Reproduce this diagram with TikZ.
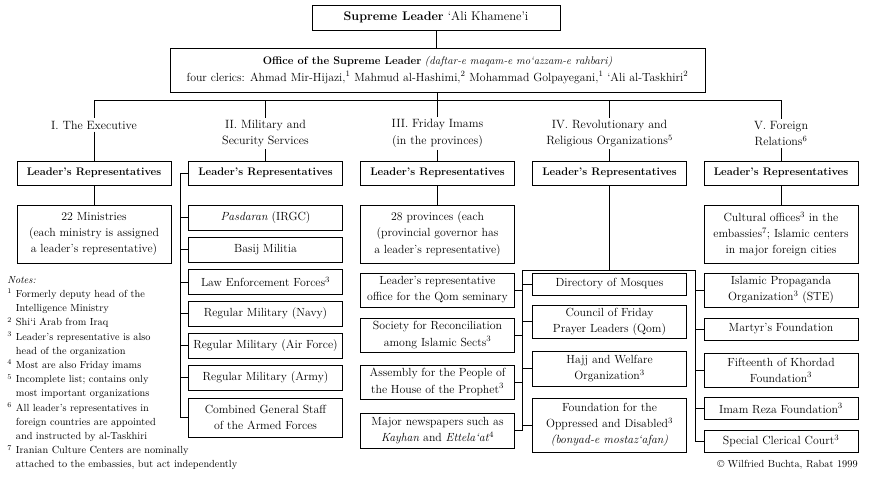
\documentclass[tikz,border=0pt]{standalone}
\usepackage{tikz}
\usetikzlibrary{positioning}
\pgfmathsetmacro{\xa}{94}
\pgfmathsetmacro{\xb}{265.5}
\pgfmathsetmacro{\xc}{437.5}
\pgfmathsetmacro{\xd}{609.5}
\pgfmathsetmacro{\xe}{781}
\pgfmathsetmacro{\bw}{154}

\begin{document}
\begin{tikzpicture}[x=1pt, y=-1pt, line width=.7pt,
		box/.style={draw, line width=.8pt, align=center, inner sep=0pt, minimum width=\bw, font=\fontsize{11.8}{16.2}\selectfont},
		head/.style={align=center, inner sep=2pt, font=\fontsize{12}{16.5}\selectfont},
		rep/.style={box, minimum height=24, font=\fontsize{11}{14}\selectfont},
		notes/.style={inner sep=0pt, align=left, font=\fontsize{10.3}{14.2}\selectfont}]
		\useasboundingbox (0,0) rectangle (872,477);
		\node[box, minimum width=248, minimum height=25, font=\fontsize{12.5}{15}\selectfont] (lead) at (436,17.5) {\textbf{Supreme Leader} `Ali Khamene'i};
		\node[box, minimum width=535, minimum height=44, font=\fontsize{11}{16.5}\selectfont] (office) at (437.5,70) {\textbf{Office of the Supreme Leader} \textit{(daftar-e maqam-e mo`azzam-e rahbari)}\\\fontsize{11.8}{16.5}\selectfont four clerics: Ahmad Mir-Hijazi,\textsuperscript{1} Mahmud al-Hashimi,\textsuperscript{2} Mohammad Golpayegani,\textsuperscript{1} `Ali al-Taskhiri\textsuperscript{2}};
		\coordinate (bar) at (437.5,100);
		\node[head] (h1) at (\xa,125) {I. The Executive};
		\node[head] (h2) at (\xb,133.5) {II. Military and\\Security Services};
		\node[head] (h3) at (\xc,133.5) {III. Friday Imams\\(in the provinces)};
		\node[head] (h4) at (\xd,133.5) {IV. Revolutionary and\\Religious Organizations\textsuperscript{5}};
		\node[head] (h5) at (\xe,133.5) {V. Foreign\\Relations\textsuperscript{6}};
		\foreach \x/\n in {\xa/1, \xb/2, \xc/3, \xd/4, \xe/5}
			\node[rep] (rep\n) at (\x,173) {\textbf{Leader's Representatives}};
		\node[box, minimum height=58] (min1) at (\xa,234) {22 Ministries\\(each ministry is assigned\\a leader's representative)};
		\node[box, minimum height=25] (pasd) at (\xb,217.5) {\textit{Pasdaran} (IRGC)};
		\node[box, minimum height=25] (basij) at (\xb,249.5) {Basij Militia};
		\node[box, minimum height=25] (law) at (\xb,282) {Law Enforcement Forces\textsuperscript{3}};
		\node[box, minimum height=25] (navy) at (\xb,313.5) {Regular Military (Navy)};
		\node[box, minimum height=25] (air) at (\xb,345.5) {Regular Military (Air Force)};
		\node[box, minimum height=25] (army) at (\xb,377.5) {Regular Military (Army)};
		\node[box, minimum height=39] (comb) at (\xb,417.5) {Combined General Staff\\of the Armed Forces};
		\node[box, minimum height=58] (prov3) at (\xc,234) {28 provinces (each\\(provincial governor has\\a leader's representative)};
		\node[box, minimum height=34] (qom) at (\xc,290) {Leader's representative\\office for the Qom seminary};
		\node[box, minimum height=34] (soc) at (\xc,335) {Society for Reconciliation\\among Islamic Sects\textsuperscript{3}};
		\node[box, minimum height=34] (assem) at (\xc,382) {Assembly for the People of\\the House of the Prophet\textsuperscript{3}};
		\node[box, minimum height=35] (news) at (\xc,430.5) {Major newspapers such as\\\textit{Kayhan} and \textit{Ettela`at}\textsuperscript{4}};
		\node[box, minimum height=22] (dir) at (\xd,284) {Directory of Mosques};
		\node[box, minimum height=33] (council) at (\xd,321.5) {Council of Friday\\Prayer Leaders (Qom)};
		\node[box, minimum height=35] (hajj) at (\xd,368.5) {Hajj and Welfare\\Organization\textsuperscript{3}};
		\node[box, minimum height=54] (found) at (\xd,425) {Foundation for the\\Oppressed and Disabled\textsuperscript{3}\\\textit{(bonyad-e mostaz`afan)}};
		\node[box, minimum height=58] (cult5) at (\xe,234) {Cultural offices\textsuperscript{3} in the\\embassies\textsuperscript{7}; Islamic centers\\in major foreign cities};
		\node[box, minimum height=34] (prop) at (\xe,290) {Islamic Propaganda\\Organization\textsuperscript{3} (STE)};
		\node[box, minimum height=22] (mart) at (\xe,329) {Martyr's Foundation};
		\node[box, minimum height=34] (fif) at (\xe,370) {Fifteenth of Khordad\\Foundation\textsuperscript{3}};
		\node[box, minimum height=22] (reza) at (\xe,408.5) {Imam Reza Foundation\textsuperscript{3}};
		\node[box, minimum height=22] (court) at (\xe,441) {Special Clerical Court\textsuperscript{3}};
		\node[notes, anchor=north west] (notes) at (7,273) {\begin{tabular}{@{}l@{\hspace{4pt}}l@{}}
			\multicolumn{2}{@{}l}{\textit{Notes:}}\\
			\textsuperscript{1} & Formerly deputy head of the\\
			& Intelligence Ministry\\
			\textsuperscript{2} & Shi`i Arab from Iraq\\
			\textsuperscript{3} & Leader's representative is also\\
			& head of the organization\\
			\textsuperscript{4} & Most are also Friday imams\\
			\textsuperscript{5} & Incomplete list; contains only\\
			& most important organizations\\
			\textsuperscript{6} & All leader's representatives in\\
			& foreign countries are appointed\\
			& and instructed by al-Taskhiri\\
			\textsuperscript{7} & Iranian Culture Centers are nominally\\
			& attached to the embassies, but act independently
		\end{tabular}};
		\node[notes, anchor=base east] (copy) at (858,467) {\textcopyright{} Wilfried Buchta, Rabat 1999};
		\draw (lead.south) -- (lead.south |- office.north);
		\draw (office.south |- bar) -- (office.south);
		\draw (h1.north |- bar) -- (h5.north |- bar);
		\foreach \n in {1,...,5}
			\draw (h\n.north |- bar) -- (h\n.north) (h\n.south) -- (rep\n.north);
		\draw (rep1) -- (min1);
		\draw (rep3) -- (prov3);
		\draw (rep5) -- (cult5);
		\coordinate (sp2) at (180,173);
		\draw (rep2.west) -- (sp2) |- (comb.west);
		\foreach \b in {pasd, basij, law, navy, air, army}
			\draw (\b.west) -- (\b.west -| sp2);
		\coordinate (j4) at (\xd,270);
		\coordinate (spl) at (522,270);
		\coordinate (spr) at (695,270);
		\draw (rep4) -- (j4);
		\draw (spl) -- (spr);
		\draw (spl) -- (spl |- news.east);
		\draw (spr) |- (court.west);
		\foreach \b in {qom, soc, assem, news}
			\draw (\b.east) -- (\b.east -| spl);
		\foreach \b in {dir, council, hajj, found}
			\draw (\b.west) -- (\b.west -| spl);
		\foreach \b in {prop, mart, fif, reza}
			\draw (\b.west) -- (\b.west -| spr);
	\end{tikzpicture}
\end{document}
